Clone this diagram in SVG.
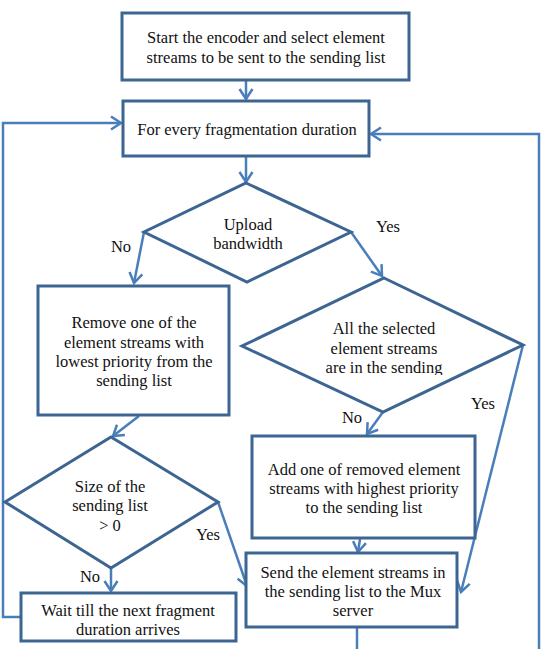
<svg xmlns="http://www.w3.org/2000/svg" width="543" height="649" viewBox="0 0 543 649">
<style>
.box{fill:#fff;stroke:#3d6592;stroke-width:3}
.con{fill:none;stroke:#4a7ebb;stroke-width:2.5}
text{font-family:"Liberation Serif","Times New Roman",serif;font-size:16.5px;fill:#111;text-anchor:middle}
</style>
<defs>
<marker id="ah" markerUnits="userSpaceOnUse" markerWidth="14" markerHeight="16" viewBox="0 0 14 16" refX="11" refY="8" orient="auto">
<path d="M1,1.5 L11,8 L1,14.5" fill="none" stroke="#4a7ebb" stroke-width="2.5"/>
</marker>
<clipPath id="clipd2"><rect x="240" y="270" width="290" height="105"/></clipPath>
</defs>
<rect width="543" height="649" fill="#fff"/>
<g id="connectors">
<path class="con" d="M246,81 L246,99" marker-end="url(#ah)"/>
<path class="con" d="M246,157 L246,182" marker-end="url(#ah)"/>
<path class="con" d="M144,232 L134,283" marker-end="url(#ah)"/>
<path class="con" d="M351,232 L382,276" marker-end="url(#ah)"/>
<path class="con" d="M383,412 L367,434" marker-end="url(#ah)"/>
<path class="con" d="M523,345 L461,592" marker-end="url(#ah)"/>
<path class="con" d="M360,539 L358,552" marker-end="url(#ah)"/>
<path class="con" d="M139,416 L113,436" marker-end="url(#ah)"/>
<path class="con" d="M218,502 L247,586" marker-end="url(#ah)"/>
<path class="con" d="M111,568 L111,591" marker-end="url(#ah)"/>
<path class="con" d="M21,617 L3,617 L3,123 L121,123" marker-end="url(#ah)"/>
<path class="con" d="M357,628 L357,660 L539,660 L539,134 L371,134" marker-end="url(#ah)"/>
</g>
<g id="start">
<rect class="box" x="122" y="13" width="287" height="67"/>
<text x="266" y="43">Start the encoder and select element</text>
<text x="266" y="63">streams to be sent to the sending list</text>
</g>
<g id="every">
<rect class="box" x="123" y="101" width="246" height="55"/>
<text x="247" y="135">For every fragmentation duration</text>
</g>
<g id="upload">
<polygon class="box" points="246,183 351,232 247,282 144,232"/>
<text x="248" y="230">Upload</text>
<text x="248" y="249">bandwidth</text>
</g>
<g id="remove">
<rect class="box" x="38" y="286" width="191" height="129"/>
<text x="134" y="328">Remove one of the</text>
<text x="134" y="348">element streams with</text>
<text x="134" y="367">lowest priority from the</text>
<text x="134" y="386">sending list</text>
</g>
<g id="allsel">
<polygon class="box" points="384,278 523,345 383,412 242,346"/>
<g clip-path="url(#clipd2)">
<text x="384" y="334">All the selected</text>
<text x="384" y="354">element streams</text>
<text x="384" y="373">are in the sending</text>
</g>
</g>
<g id="add">
<rect class="box" x="252" y="436" width="223" height="102"/>
<text x="364" y="475">Add one of removed element</text>
<text x="364" y="494">streams with highest priority</text>
<text x="364" y="513">to the sending list</text>
</g>
<g id="size">
<polygon class="box" points="111,437 218,502 111,568 5,502"/>
<text x="110" y="492">Size of the</text>
<text x="110" y="511">sending list</text>
<text x="110" y="531">&gt; 0</text>
</g>
<g id="send">
<rect class="box" x="246" y="553" width="211" height="74"/>
<text x="353" y="578">Send the element streams in</text>
<text x="353" y="597">the sending list to the Mux</text>
<text x="353" y="616">server</text>
</g>
<g id="wait">
<rect class="box" x="21" y="593" width="215" height="48"/>
<text x="128" y="616">Wait till the next fragment</text>
<text x="128" y="635">duration arrives</text>
</g>
<g id="labels">
<text x="121" y="252">No</text>
<text x="388" y="232">Yes</text>
<text x="483" y="409">Yes</text>
<text x="352" y="423">No</text>
<text x="208" y="540">Yes</text>
<text x="90" y="582">No</text>
</g>
</svg>
